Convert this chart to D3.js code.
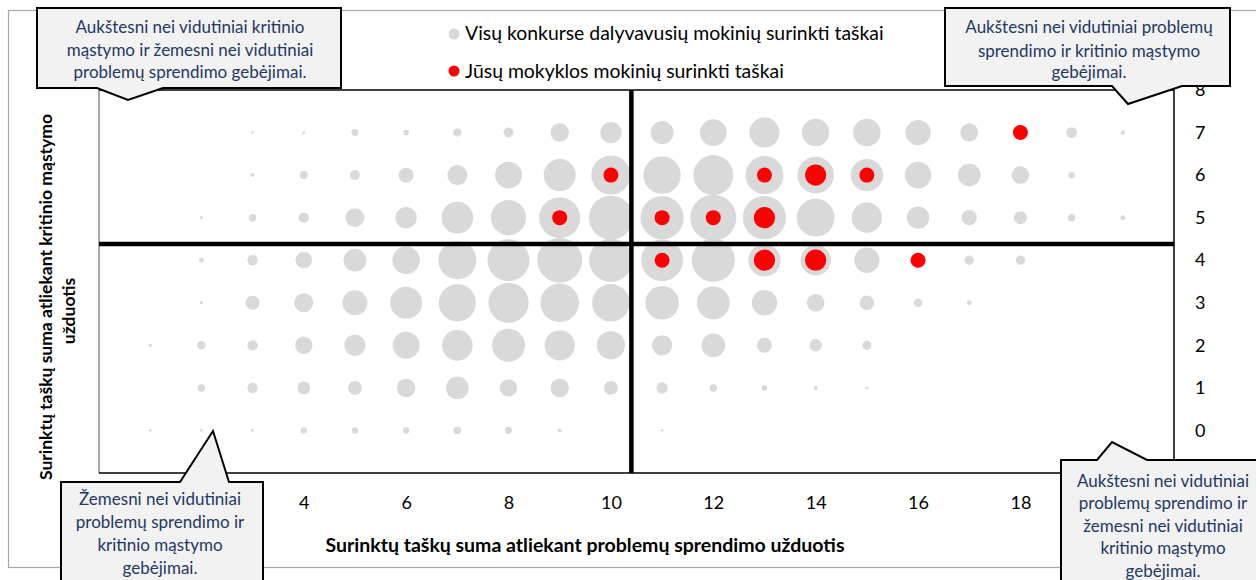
<!DOCTYPE html>
<html><head><meta charset="utf-8">
<script src="https://cdn.jsdelivr.net/npm/d3@7"></script>
<style>body{margin:0;background:#fff}svg{display:block}</style>
</head><body>
<svg id="chart" width="1256" height="580"></svg>
<script>
// ---------- DATA ----------
const problemScores = [0,1,2,3,4,5,6,7,8,9,10,11,12,13,14,15,16,17,18,19,20];
const criticalScores = [0,1,2,3,4,5,6,7];
const xTickLabels = [4,6,8,10,12,14,16,18];
const yTickLabels = [0,1,2,3,4,5,6,7,8];

// bubble sizes (all participants), one array per critical-thinking score, indexed by problem score 0..20
const allRow0 = [0,2,2,2,10,10,10,14,12,4,0,2,0,0,0,0,0,0,0,0,0];
const allRow1 = [0,0,14,27,41,48,85,128,76,85,48,32,14,8,4,2,0,0,0,0,0];
const allRow2 = [0,3,18,27,76,112,182,234,272,228,199,104,139,56,39,21,0,0,0,0,0];
const allRow3 = [0,0,3,50,90,156,256,346,404,372,353,282,269,161,77,53,18,6,0,0,0];
const allRow4 = [0,0,6,27,69,130,190,361,441,502,471,437,467,262,228,159,56,22,22,0,0];
const allRow5 = [0,0,3,14,27,90,114,253,310,420,484,467,529,467,357,228,125,59,42,13,6];
const allRow6 = [0,0,0,4,16,25,56,100,180,256,384,350,400,361,335,262,177,128,77,10,0];
const allRow7 = [0,0,0,2,2,12,8,16,25,86,114,132,177,225,188,188,159,81,49,29,5];
const allRows = [allRow0,allRow1,allRow2,allRow3,allRow4,allRow5,allRow6,allRow7];

// your school's students
const schoolProblem  = [18,10,13,14,15, 9,11,12,13,11,13,14,16];
const schoolCritical = [ 7, 6, 6, 6, 6, 5, 5, 5, 5, 4, 4, 4, 4];
const schoolCount    = [ 1, 1, 1, 2, 1, 1, 1, 1, 2, 1, 2, 2, 1];

const meanProblem = 10.4;
const meanCritical = 4.38;

const legendLabels = ["Visų konkurse dalyvavusių mokinių surinkti taškai","Jūsų mokyklos mokinių surinkti taškai"];
const xTitle = "Surinktų taškų suma atliekant problemų sprendimo užduotis";
const yTitleLines = ["Surinktų taškų suma atliekant kritinio mąstymo","užduotis"];
const calloutTL = ["Aukštesni nei vidutiniai kritinio","mąstymo ir žemesni nei vidutiniai","problemų sprendimo gebėjimai."];
const calloutTR = ["Aukštesni nei vidutiniai problemų","sprendimo ir kritinio mąstymo","gebėjimai."];
const calloutBL = ["Žemesni nei vidutiniai","problemų sprendimo ir","kritinio mąstymo","gebėjimai."];
const calloutBR = ["Aukštesni nei vidutiniai","problemų sprendimo ir","žemesni nei vidutiniai","kritinio mąstymo","gebėjimai."];

// ---------- CHART ----------
const FONT = "Lato, 'Open Sans', sans-serif";
const svg = d3.select("#chart");
const plot = {l:99, r:1174, t:90, b:473};

const x = d3.scaleLinear().domain([0,21]).range([plot.l, plot.r]);
const y = d3.scaleLinear().domain([-1,8]).range([plot.b, plot.t]);
const rAll = d3.scaleSqrt().domain([0,529]).range([0,23]);
const rSchool = d3.scaleSqrt().domain([0,2]).range([0,10.6]);

// outer chart border
svg.append("rect").attr("x",8.5).attr("y",10.5).attr("width",1260).attr("height",557)
  .attr("fill","#fff").attr("stroke","#a6a6a6").attr("stroke-width",1.2);

// plot area
svg.append("rect").attr("x",plot.l).attr("y",plot.t).attr("width",plot.r-plot.l).attr("height",plot.b-plot.t)
  .attr("fill","#fff");

// bubbles
const allPts = [];
allRows.forEach((row, i) => row.forEach((v, j) => { if (v > 0) allPts.push({px: problemScores[j], cy: criticalScores[i], v}); }));
svg.append("g").selectAll("circle").data(allPts).join("circle")
  .attr("cx", d => x(d.px)).attr("cy", d => y(d.cy)).attr("r", d => rAll(d.v))
  .attr("fill", "#d9d9d9");

const schoolPts = schoolProblem.map((p, i) => ({px: p, cy: schoolCritical[i], n: schoolCount[i]}));
svg.append("g").selectAll("circle").data(schoolPts).join("circle")
  .attr("cx", d => x(d.px)).attr("cy", d => y(d.cy)).attr("r", d => rSchool(d.n))
  .attr("fill", "#ff0000");

// plot borders
svg.append("line").attr("x1",plot.l).attr("x2",plot.l).attr("y1",plot.t).attr("y2",plot.b).attr("stroke","#8c8c8c").attr("stroke-width",1.5);
svg.append("path").attr("d",`M${plot.l},${plot.t}H${plot.r}V${plot.b}H${plot.l}`).attr("fill","none").attr("stroke","#000").attr("stroke-width",1.5);

// mean lines
svg.append("line").attr("x1",x(meanProblem)).attr("x2",x(meanProblem)).attr("y1",plot.t).attr("y2",plot.b)
  .attr("stroke","#000").attr("stroke-width",4.5);
svg.append("line").attr("x1",plot.l).attr("x2",plot.r).attr("y1",y(meanCritical)).attr("y2",y(meanCritical))
  .attr("stroke","#000").attr("stroke-width",4.5);

// axes (labels only)
const xAxis = svg.append("g").attr("transform",`translate(0,${plot.b})`)
  .call(d3.axisBottom(x).tickValues(xTickLabels).tickSize(0).tickPadding(23).tickFormat(d3.format("d")));
xAxis.select(".domain").remove();
xAxis.selectAll("text").attr("font-family",FONT).attr("font-size",18).attr("fill","#000");

const yAxis = svg.append("g").attr("transform",`translate(${plot.r},0)`)
  .call(d3.axisRight(y).tickValues(yTickLabels).tickSize(0).tickPadding(21).tickFormat(d3.format("d")));
yAxis.select(".domain").remove();
yAxis.selectAll("text").attr("font-family",FONT).attr("font-size",18).attr("fill","#000");

// axis titles
svg.append("text").attr("x",585).attr("y",552).attr("text-anchor","middle")
  .attr("font-family",FONT).attr("font-weight","bold").attr("font-size",19.5).attr("fill","#000").text(xTitle);
const yt = svg.append("g");
yt.append("text").attr("transform","translate(52,297) rotate(-90)").attr("text-anchor","middle")
  .attr("font-family",FONT).attr("font-weight","bold").attr("font-size",17.5).attr("fill","#000").text(yTitleLines[0]);
yt.append("text").attr("transform","translate(75,311) rotate(-90)").attr("text-anchor","middle")
  .attr("font-family",FONT).attr("font-weight","bold").attr("font-size",17.5).attr("fill","#000").text(yTitleLines[1]);

// legend
const lg = svg.append("g");
[["#d9d9d9",34,40],["#ff0000",71,78]].forEach((c,i) => {
  lg.append("circle").attr("cx",454).attr("cy",c[1]).attr("r",5.5).attr("fill",c[0]);
  lg.append("text").attr("x",465).attr("y",c[2]).attr("font-family",FONT).attr("font-size",19.4).attr("fill","#000").text(legendLabels[i]);
});

// callouts
function callout(points, lines, cx, baselines) {
  const g = svg.append("g");
  g.append("path").attr("d","M"+points.map(p=>p.join(",")).join("L")+"Z")
    .attr("fill","#f2f2f2").attr("stroke","#000").attr("stroke-width",2).attr("stroke-linejoin","miter");
  lines.forEach((t,i) => g.append("text").attr("x",cx).attr("y",baselines[i]).attr("text-anchor","middle")
    .attr("font-family",FONT).attr("font-size",17).attr("fill","#1f3864").text(t));
}
callout([[37,8],[341,8],[341,88],[163,88],[128,100],[97,88],[37,88]], calloutTL, 190, [33,56,78]);
callout([[945,8],[1230,8],[1230,86],[1182,86],[1128,104],[1112,86],[945,86]], calloutTR, 1089, [33,57,78]);
callout([[61,482],[180,482],[213,431],[229,482],[263,482],[263,600],[61,600]], calloutBL, 160, [505,528,551,574]);
callout([[1061,460],[1097,460],[1112,442],[1147,460],[1270,460],[1270,600],[1061,600]], calloutBR, 1163, [487,509,532,554,577]);
</script>
</body></html>
